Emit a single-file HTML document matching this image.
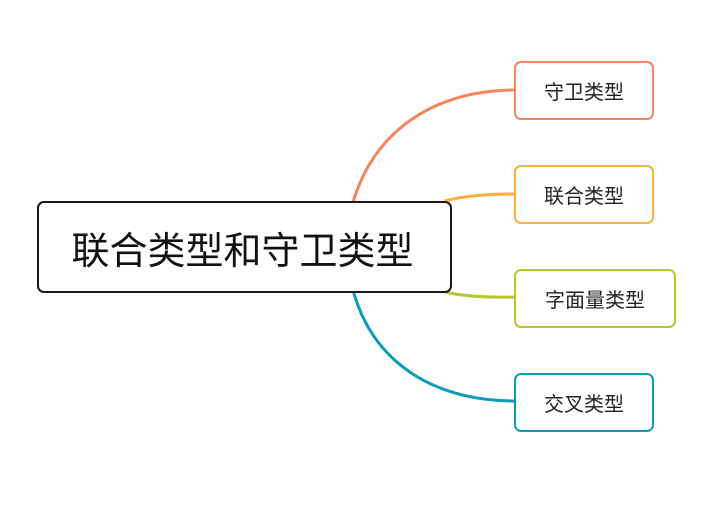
<!DOCTYPE html>
<html><head><meta charset="utf-8"><style>
body{margin:0;width:712px;height:517px;background:#fff;overflow:hidden;position:relative;font-family:"Liberation Sans","Noto Sans CJK SC",sans-serif}
.b{position:absolute;box-sizing:border-box;border-radius:7px;background:#fff;display:flex;align-items:center;justify-content:center;color:#222}
.c{border:2px solid;font-size:20px}
</style></head><body>
<svg width="712" height="517" style="position:absolute;left:0;top:0" fill="none" stroke-width="3">
<path d="M353,203 C372,135 430,90 516,90" stroke="#f6845c"/>
<path d="M445,201 Q470,194 516,194" stroke="#fbae3c"/>
<path d="M445,292 Q470,298 516,297" stroke="#b8c62c"/>
<path d="M353,290 C372,360 430,401 516,401" stroke="#0a9bb7"/>
</svg>
<div class="b" style="left:37px;top:201px;width:415px;height:92px;border:2px solid #1a1a1a;font-size:38px;color:#111;padding-right:4px">联合类型和守卫类型</div>
<div class="b c" style="left:514px;top:61px;width:140px;height:59px;border-color:#f6845c">守卫类型</div>
<div class="b c" style="left:514px;top:165px;width:140px;height:59px;border-color:#fbae3c">联合类型</div>
<div class="b c" style="left:514px;top:269px;width:162px;height:59px;border-color:#b8c62c">字面量类型</div>
<div class="b c" style="left:514px;top:373px;width:140px;height:59px;border-color:#0a9bb7">交叉类型</div>
</body></html>
